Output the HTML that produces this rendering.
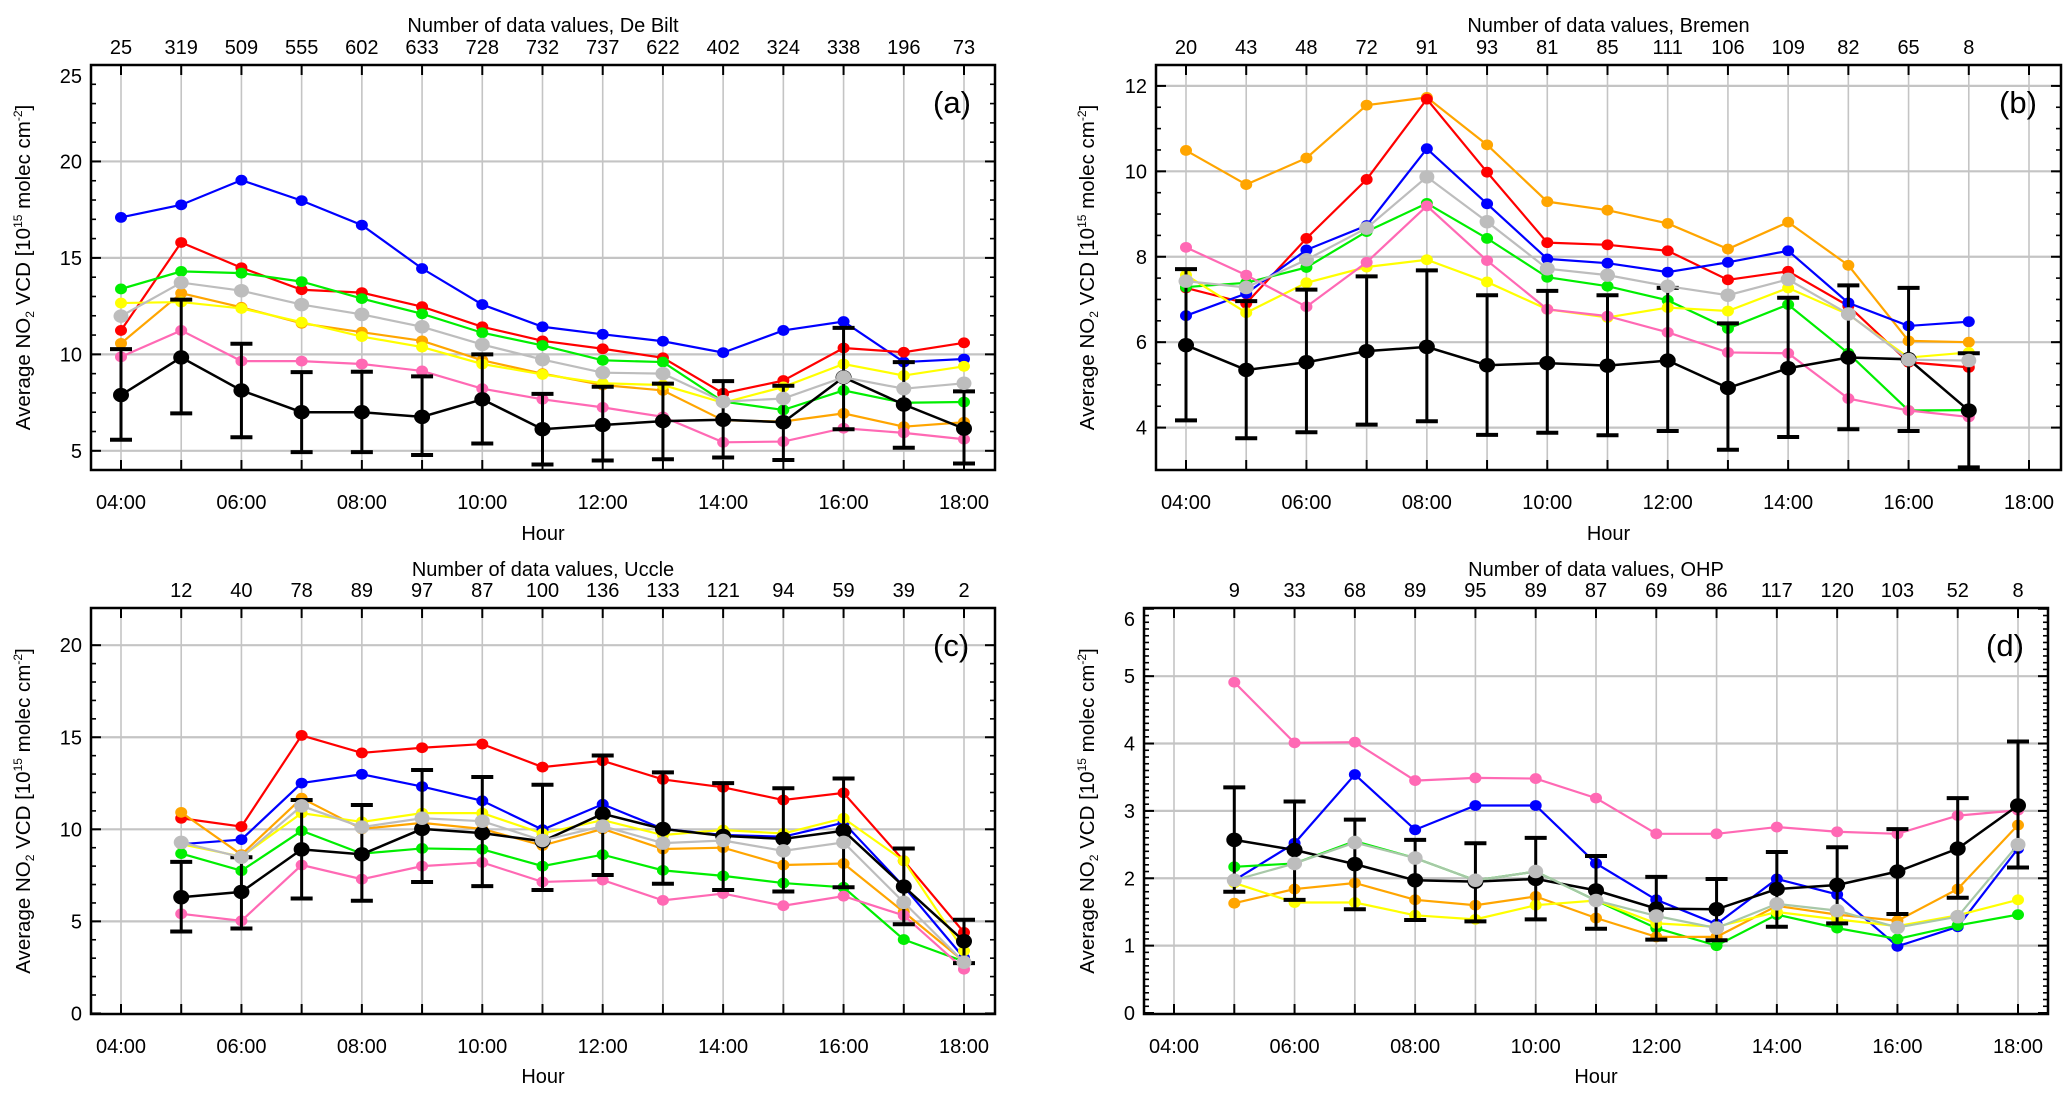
<!DOCTYPE html>
<html><head><meta charset="utf-8">
<style>
html,body{margin:0;padding:0;background:#fff;}
svg{display:block;font-family:"Liberation Sans",sans-serif;}
</style></head>
<body>
<svg id="fig" width="2067" height="1097" viewBox="0 0 2067 1097" xmlns="http://www.w3.org/2000/svg"></svg>
<script>
// ---------- Panel (a) De Bilt data ----------
const hoursA = [4,5,6,7,8,9,10,11,12,13,14,15,16,17,18];
const countsA = [25,319,509,555,602,633,728,732,737,622,402,324,338,196,73];
const blueA = [17.1,17.75,19.03,17.97,16.7,14.45,12.58,11.43,11.04,10.68,10.09,11.24,11.7,9.6,9.76];
const redA = [11.24,15.8,14.49,13.35,13.2,12.47,11.43,10.7,10.29,9.82,7.98,8.64,10.33,10.11,10.6];
const greenA = [13.39,14.3,14.21,13.77,12.89,12.1,11.12,10.46,9.69,9.6,7.55,7.12,8.13,7.49,7.53];
const grayA = [11.98,13.72,13.3,12.58,12.07,11.43,10.51,9.73,9.05,9.0,7.55,7.71,8.81,8.22,8.5];
const yellowA = [12.66,12.71,12.38,11.67,10.92,10.38,9.5,8.96,8.5,8.41,7.49,8.31,9.5,8.9,9.38];
const orangeA = [10.57,13.17,12.44,11.61,11.15,10.7,9.69,9.0,8.41,8.13,6.58,6.52,6.94,6.25,6.48];
const pinkA = [9.87,11.24,9.65,9.65,9.5,9.14,8.22,7.67,7.25,6.76,5.44,5.48,6.17,5.93,5.6];
const blackA = [7.89,9.84,8.13,7.0,7.0,6.76,7.67,6.12,6.34,6.54,6.61,6.48,8.81,7.4,6.15];
const hiA = [10.27,12.84,10.55,9.08,9.1,8.86,10.0,7.95,8.32,8.48,8.61,8.37,11.37,9.6,8.08];
const loA = [5.57,6.94,5.7,4.93,4.93,4.78,5.38,4.29,4.5,4.56,4.65,4.52,6.12,5.16,4.34];
const yTicksA = [5,10,15,20,25];

// ---------- Panel (b) Bremen data ----------
const hoursB = [4,5,6,7,8,9,10,11,12,13,14,15,16,17];
const countsB = [20,43,48,72,91,93,81,85,111,106,109,82,65,8];
const orangeB = [10.49,9.69,10.31,11.55,11.73,10.62,9.29,9.09,8.78,8.18,8.81,7.8,6.03,6.0];
const redB = [7.27,6.91,8.43,9.81,11.69,9.98,8.33,8.28,8.14,7.46,7.66,6.85,5.53,5.41];
const blueB = [6.62,7.14,8.16,8.73,10.53,9.24,7.95,7.85,7.64,7.87,8.14,6.92,6.38,6.48];
const grayB = [7.43,7.28,7.93,8.67,9.87,8.82,7.72,7.57,7.31,7.1,7.47,6.66,5.59,5.57];
const greenB = [7.29,7.39,7.75,8.59,9.25,8.43,7.52,7.31,6.98,6.32,6.88,5.74,4.4,4.41];
const yellowB = [7.57,6.69,7.39,7.76,7.93,7.41,6.77,6.58,6.81,6.73,7.27,6.65,5.64,5.76];
const pinkB = [8.22,7.57,6.83,7.87,9.19,7.91,6.77,6.61,6.23,5.76,5.74,4.68,4.4,4.25];
const blackB = [5.93,5.35,5.53,5.79,5.89,5.46,5.51,5.45,5.57,4.93,5.39,5.64,5.6,4.4];
const hiB = [7.71,6.96,7.23,7.54,7.68,7.1,7.2,7.1,7.27,6.44,7.04,7.33,7.27,5.74];
const loB = [4.17,3.75,3.89,4.07,4.15,3.83,3.88,3.82,3.92,3.48,3.78,3.96,3.92,3.07];
const yTicksB = [4,6,8,10,12];

// ---------- Panel (c) Uccle data ----------
const hoursC = [5,6,7,8,9,10,11,12,13,14,15,16,17,18];
const countsC = [12,40,78,89,97,87,100,136,133,121,94,59,39,2];
const redC = [10.6,10.15,15.1,14.15,14.43,14.63,13.38,13.72,12.71,12.28,11.59,11.98,8.29,4.4];
const blueC = [9.19,9.44,12.51,12.99,12.32,11.55,9.98,11.36,10.02,9.69,9.6,10.36,6.89,3.01];
const orangeC = [10.92,8.62,11.69,10.02,10.35,10.02,9.12,10.02,8.93,9.0,8.06,8.14,5.51,2.82];
const yellowC = [9.19,8.52,10.88,10.4,10.88,10.88,9.77,10.5,9.69,9.96,9.77,10.6,8.29,3.4];
const grayC = [9.29,8.48,11.27,10.12,10.6,10.44,9.39,10.17,9.25,9.39,8.83,9.29,6.03,2.78];
const greenC = [8.68,7.75,9.92,8.68,8.96,8.91,8.0,8.62,7.77,7.47,7.08,6.85,4.01,2.82];
const pinkC = [5.41,5.03,8.06,7.29,8.0,8.2,7.14,7.24,6.14,6.51,5.85,6.37,5.32,2.4];
const blackC = [6.31,6.6,8.91,8.64,10.02,9.79,9.35,10.84,10.02,9.64,9.48,9.92,6.89,3.92];
const hiC = [8.23,8.48,11.59,11.32,13.22,12.84,12.42,14.01,13.09,12.51,12.23,12.76,8.96,5.09];
const loC = [4.45,4.61,6.24,6.12,7.14,6.91,6.7,7.52,7.04,6.7,6.62,6.85,4.84,2.73];
const yTicksC = [0,5,10,15,20];

// ---------- Panel (d) OHP data ----------
const hoursD = [5,6,7,8,9,10,11,12,13,14,15,16,17,18];
const countsD = [9,33,68,89,95,89,87,69,86,117,120,103,52,8];
const pinkD = [4.91,4.01,4.02,3.45,3.49,3.48,3.19,2.66,2.66,2.76,2.69,2.66,2.93,3.01];
const blueD = [1.97,2.52,3.54,2.72,3.08,3.08,2.22,1.68,1.32,1.99,1.76,0.99,1.28,2.44];
const greenD = [2.17,2.22,2.55,2.3,1.97,2.1,1.67,1.26,1.0,1.46,1.26,1.1,1.3,1.46];
const orangeD = [1.63,1.84,1.93,1.68,1.6,1.73,1.41,1.13,1.13,1.59,1.46,1.37,1.84,2.79];
const yellowD = [1.93,1.64,1.64,1.45,1.39,1.6,1.67,1.33,1.28,1.5,1.39,1.29,1.45,1.68];
const grayD = [1.97,2.22,2.53,2.3,1.97,2.1,1.67,1.44,1.26,1.62,1.52,1.27,1.43,2.5];
const blackD = [2.57,2.42,2.21,1.97,1.95,1.99,1.82,1.55,1.54,1.84,1.9,2.1,2.44,3.08];
const hiD = [3.35,3.14,2.87,2.57,2.52,2.6,2.33,2.02,1.99,2.39,2.46,2.73,3.19,4.03];
const loD = [1.8,1.68,1.54,1.38,1.36,1.39,1.25,1.09,1.08,1.28,1.33,1.47,1.71,2.16];
const yTicksD = [0,1,2,3,4,5,6];

const hourTicks = [4,6,8,10,12,14,16,18];
const hourLabels = ["04:00","06:00","08:00","10:00","12:00","14:00","16:00","18:00"];

const NS = "http://www.w3.org/2000/svg";
const svg = document.getElementById("fig");
function mk(tag, attrs, parent){
  const e = document.createElementNS(NS, tag);
  for (const k in attrs) e.setAttribute(k, attrs[k]);
  (parent||svg).appendChild(e);
  return e;
}

function panel(cfg){
  const g = mk("g", {});
  
  
  const L=cfg.left, R=cfg.right, T=cfg.top, B=cfg.bottom;
  const xs = h => cfg.x4 + (h-4)*(cfg.x18-cfg.x4)/14;
  const ys = v => cfg.yBot + (v-cfg.vBot)*(cfg.yTop-cfg.yBot)/(cfg.vTop-cfg.vBot);
  for (let h=4; h<=18; h++){
    const gl = mk("line",{x1:xs(h),x2:xs(h),y1:T,y2:B,stroke:"#c4c4c4","stroke-width":1.6},g);
    
    
  }
  cfg.yTicks.forEach(v=>{
    const y = ys(v);
    if (y>T+1 && y<B-1){
      const gl = mk("line",{x1:L,x2:R,y1:y,y2:y,stroke:"#c4c4c4","stroke-width":2.2},g);
      
      
    }
    const t = mk("text",{x:L-9,y:Math.max(y+7,T+18),"text-anchor":"end","font-size":20},g);
    t.textContent = v;
    
    
    mk("line",{x1:L,x2:L+10,y1:y,y2:y,stroke:"#000","stroke-width":2},g);
    mk("line",{x1:R,x2:R-10,y1:y,y2:y,stroke:"#000","stroke-width":2},g);
  });
  for (let v=cfg.vBot; v<=cfg.vTop+1e-9; v+=cfg.minor){
    const y = ys(Math.round(v/cfg.minor)*cfg.minor);
    if (y<T||y>B) continue;
    mk("line",{x1:L,x2:L+5,y1:y,y2:y,stroke:"#000","stroke-width":1.6},g);
    mk("line",{x1:R,x2:R-5,y1:y,y2:y,stroke:"#000","stroke-width":1.6},g);
  }
  for (let h=4; h<=18; h++){
    mk("line",{x1:xs(h),x2:xs(h),y1:T,y2:T+10,stroke:"#000","stroke-width":2},g);
    mk("line",{x1:xs(h),x2:xs(h),y1:B,y2:B-10,stroke:"#000","stroke-width":2},g);
  }
  hourTicks.forEach((h,i)=>{
    const t = mk("text",{x:xs(h),y:cfg.hourY,"text-anchor":"middle","font-size":20},g);
    t.textContent = hourLabels[i];
    
    
  });
  cfg.hours.forEach((h,i)=>{
    const t = mk("text",{x:xs(h),y:cfg.countY,"text-anchor":"middle","font-size":20},g);
    t.textContent = cfg.counts[i];
    
    
  });
  const tt = mk("text",{x:(L+R)/2,y:cfg.titleY,"text-anchor":"middle","font-size":20},g);
  tt.textContent = "Number of data values, " + cfg.station;
  
  
  const xt = mk("text",{x:(L+R)/2,y:cfg.xTitleY,"text-anchor":"middle","font-size":20},g);
  xt.textContent = "Hour";
  
  
  const yt = mk("text",{x:0,y:0,"text-anchor":"middle","font-size":20.5,transform:`translate(${cfg.yTitleX},${(T+B)/2}) rotate(-90)`},g);
  yt.innerHTML = 'Average NO<tspan font-size="12" dy="4">2</tspan><tspan dy="-4"> VCD [10</tspan><tspan font-size="12" dy="-8">15</tspan><tspan dy="8"> molec cm</tspan><tspan font-size="12" dy="-8">-2</tspan><tspan dy="8">]</tspan>';
  
  
  const pl = mk("text",{x:R-62,y:T+48,"font-size":31},g);
  pl.textContent = cfg.label;
  
  

  function series(vals, color, r, sw, nm, lineColor){
    const sg = mk("g",{},g);
    
    
    const pts = cfg.hours.map((h,i)=>xs(h)+","+ys(vals[i])).join(" ");
    mk("polyline",{points:pts,fill:"none",stroke:lineColor||color,"stroke-width":sw},sg);
    cfg.hours.forEach((h,i)=>{
      const c = mk("ellipse",{cx:xs(h),cy:ys(vals[i]),rx:r,ry:r*0.9,fill:color},sg);
      
      
    });
  }
  cfg.series.forEach(s=>series(s[0],s[1],6,2.2,s[2]));
  const eg = mk("g",{},g);
  
  
  cfg.hours.forEach((h,i)=>{
    const x=xs(h), y1=ys(cfg.hi[i]), y2=ys(cfg.lo[i]);
    mk("line",{x1:x,x2:x,y1:y1,y2:y2,stroke:"#000","stroke-width":3},eg);
    mk("line",{x1:x-11,x2:x+11,y1:y1,y2:y1,stroke:"#000","stroke-width":4},eg);
    mk("line",{x1:x-11,x2:x+11,y1:y2,y2:y2,stroke:"#000","stroke-width":4},eg);
  });
  series(cfg.black,"#000",8,2.5,"mean-series");
  series(cfg.gray,"#bdbdbd",7.5,2.2,"gray-series",cfg.grayLine);
  const fr = mk("rect",{x:L,y:T,width:R-L,height:B-T,fill:"none",stroke:"#000","stroke-width":2.5},g);
  
  
}

panel({name:"panel-a-de-bilt",label:"(a)",station:"De Bilt",left:91,right:995,top:65,bottom:470,
  x4:121,x18:964,yTop:65,yBot:450.8,vTop:25,vBot:5,minor:1,yTicks:yTicksA,
  titleY:32,countY:54,hourY:509,xTitleY:540,yTitleX:30,
  hours:hoursA,counts:countsA,black:blackA,hi:hiA,lo:loA,gray:grayA,
  series:[[blueA,"#0000ff","blue-series"],[redA,"#ff0000","red-series"],[greenA,"#00ee00","green-series"],[orangeA,"#ffa500","orange-series"],[yellowA,"#ffff00","yellow-series"],[pinkA,"#ff69b4","pink-series"]]});
panel({name:"panel-b-bremen",label:"(b)",station:"Bremen",left:1156,right:2061,top:65,bottom:470,
  x4:1186,x18:2029,yTop:85.9,yBot:427.6,vTop:12,vBot:4,minor:0.5,yTicks:yTicksB,
  titleY:32,countY:54,hourY:509,xTitleY:540,yTitleX:1094,
  hours:hoursB,counts:countsB,black:blackB,hi:hiB,lo:loB,gray:grayB,
  series:[[orangeB,"#ffa500","orange-series"],[redB,"#ff0000","red-series"],[blueB,"#0000ff","blue-series"],[greenB,"#00ee00","green-series"],[yellowB,"#ffff00","yellow-series"],[pinkB,"#ff69b4","pink-series"]]});
panel({name:"panel-c-uccle",label:"(c)",station:"Uccle",left:91,right:995,top:608,bottom:1014,
  x4:121,x18:964,yTop:645.2,yBot:1013.4,vTop:20,vBot:0,minor:1,yTicks:yTicksC,
  titleY:576,countY:597,hourY:1053,xTitleY:1083,yTitleX:30,
  hours:hoursC,counts:countsC,black:blackC,hi:hiC,lo:loC,gray:grayC,
  series:[[redC,"#ff0000","red-series"],[blueC,"#0000ff","blue-series"],[orangeC,"#ffa500","orange-series"],[yellowC,"#ffff00","yellow-series"],[greenC,"#00ee00","green-series"],[pinkC,"#ff69b4","pink-series"]]});
panel({name:"panel-d-ohp",label:"(d)",station:"OHP",left:1144,right:2048,top:608,bottom:1014,
  x4:1174,x18:2018,yTop:608.8,yBot:1013,vTop:6,vBot:0,minor:0.1,yTicks:yTicksD,
  titleY:576,countY:597,hourY:1053,xTitleY:1083,yTitleX:1094,grayLine:"#a8c8a8",
  hours:hoursD,counts:countsD,black:blackD,hi:hiD,lo:loD,gray:grayD,
  series:[[pinkD,"#ff69b4","pink-series"],[blueD,"#0000ff","blue-series"],[greenD,"#00ee00","green-series"],[orangeD,"#ffa500","orange-series"],[yellowD,"#ffff00","yellow-series"]]});
</script>
</body></html>
